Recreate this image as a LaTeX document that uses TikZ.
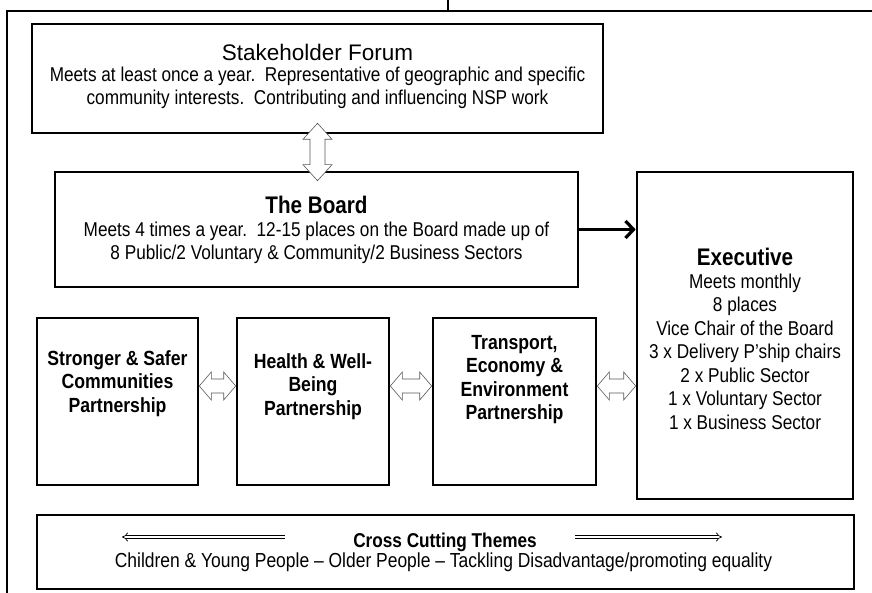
\documentclass[tikz,border=0pt]{standalone}
\usepackage{fontspec}
\setmainfont{Liberation Sans}
\newfontfamily\nrw[FakeStretch=0.86]{Liberation Sans}
\usetikzlibrary{arrows.meta,calc}
\newcommand\hdarr[2]{\filldraw[dbl] (#1) -- ($(#1)+(12,-14)$) -- ($(#1)+(12,-7)$) -- ($(#2)+(-12,-7)$) -- ($(#2)+(-12,-14)$) -- (#2) -- ($(#2)+(-12,14)$) -- ($(#2)+(-12,7)$) -- ($(#1)+(12,7)$) -- ($(#1)+(12,14)$) -- cycle;}
\newcommand\vdarr[2]{\filldraw[dbl] (#1) -- ($(#1)+(14.5,16)$) -- ($(#1)+(7.5,16)$) -- ($(#2)+(7.5,-16)$) -- ($(#2)+(14.5,-16)$) -- (#2) -- ($(#2)+(-14.5,-16)$) -- ($(#2)+(-7.5,-16)$) -- ($(#1)+(-7.5,16)$) -- ($(#1)+(-14.5,16)$) -- cycle;}
\begin{document}
\begin{tikzpicture}[x=1pt,y=-1pt,
  box/.style={draw, line width=2.6pt, rectangle, inner sep=0pt, fill=white},
  frame/.style={line width=1.3pt},
  dbl/.style={fill=white, draw=gray!70!black, line width=0.6pt, line join=miter},
  ttl/.style={font=\fontsize{22.5}{26}\selectfont, inner sep=0pt},
  ttlb/.style={font=\fontsize{24}{28}\selectfont\bfseries\nrw, inner sep=0pt},
  body/.style={font=\fontsize{20}{23.5}\selectfont\nrw, align=center, inner sep=0pt},
  pbody/.style={font=\fontsize{20.5}{23.2}\selectfont\bfseries\nrw, align=center, inner sep=0pt},
  thinarr/.style={double, double distance=2.4pt, line width=0.7pt, -{Implies}},
  execarr/.style={line width=3.2pt, -{Straight Barb[length=8pt,width=17pt]}}]
\useasboundingbox (0,0) rectangle (872,593);
\fill[white] (0,0) rectangle (872,593);
% outer frame lines
\draw[frame] (7,593) -- (7,11) -- (872,11);
\draw[frame] (448,0) -- (448,11);
% boxes
\node[box, minimum width=571pt, minimum height=109pt] (forum) at (317.5,78.5) {};
\node[box, minimum width=523pt, minimum height=115pt] (board) at (316.5,229.5) {};
\node[box, minimum width=216pt, minimum height=327pt] (exec) at (745,335.5) {};
\node[box, minimum width=161pt, minimum height=167pt] (s1) at (117.5,401.5) {};
\node[box, minimum width=152pt, minimum height=167pt] (s2) at (313,401.5) {};
\node[box, minimum width=163pt, minimum height=167pt] (s3) at (514.5,401.5) {};
\node[box, minimum width=817pt, minimum height=74pt] (cross) at (445.5,552) {};
% texts
\node[ttl] (forumt) at (317.5,52) {Stakeholder Forum};
\node[body] (forumb) at (317.5,88) {Meets at least once a year.\ \ Representative of geographic and specific\\community interests.\ \ Contributing and influencing NSP work};
\node[ttlb] (boardt) at (316.5,205) {The Board};
\node[body] (boardb) at (316.5,243) {Meets 4 times a year.\ \ 12-15 places on the Board made up of\\8 Public/2 Voluntary \& Community/2 Business Sectors};
\node[ttlb] (exect) at (745,257) {Executive};
\node[body] (execb) at (745,351.5) {Meets monthly\\8 places\\Vice Chair of the Board\\3 x Delivery P’ship chairs\\2 x Public Sector\\1 x Voluntary Sector\\1 x Business Sector};
\node[pbody] (s1t) at (s1.center) [yshift=18pt] {Stronger \& Safer\\Communities\\Partnership};
\node[pbody] (s2t) at (s2.center) [yshift=15pt] {Health \& Well-\\Being\\Partnership};
\node[pbody] (s3t) at (s3.center) [yshift=22pt] {Transport,\\Economy \&\\Environment\\Partnership};
\node[font=\fontsize{20}{22}\selectfont\bfseries\nrw, inner sep=0pt] (crosst) at (445,542) {Cross Cutting Themes};
\node[font=\fontsize{20.3}{22}\selectfont\nrw, inner sep=0pt] (crossb) at (443.5,562) {Children \& Young People – Older People – Tackling Disadvantage/promoting equality};
% connectors
\coordinate (vt) at ($(forum.south)+(0,-11)$);
\coordinate (vbb) at (vt |- board.north);
\coordinate (vb) at ($(vbb)+(0,10)$);
\vdarr{vt}{vb}
\coordinate (hy) at (0,386);
\coordinate (h1a) at (s1.east |- hy);
\coordinate (h1b) at (s2.west |- hy);
\coordinate (h2a) at (s2.east |- hy);
\coordinate (h2b) at (s3.west |- hy);
\coordinate (h3a) at (s3.east |- hy);
\coordinate (h3b) at (exec.west |- hy);
\hdarr{h1a}{h1b}
\hdarr{h2a}{h2b}
\hdarr{h3a}{h3b}
\draw[execarr] (board.east) -- (board.east -| exec.west);
\coordinate (la1) at (285,537);
\coordinate (la2) at (122,537);
\coordinate (ra1) at (575,537);
\coordinate (ra2) at (722,537);
\draw[thinarr] (la1) -- (la2);
\draw[thinarr] (ra1) -- (ra2);
\end{tikzpicture}
\end{document}
